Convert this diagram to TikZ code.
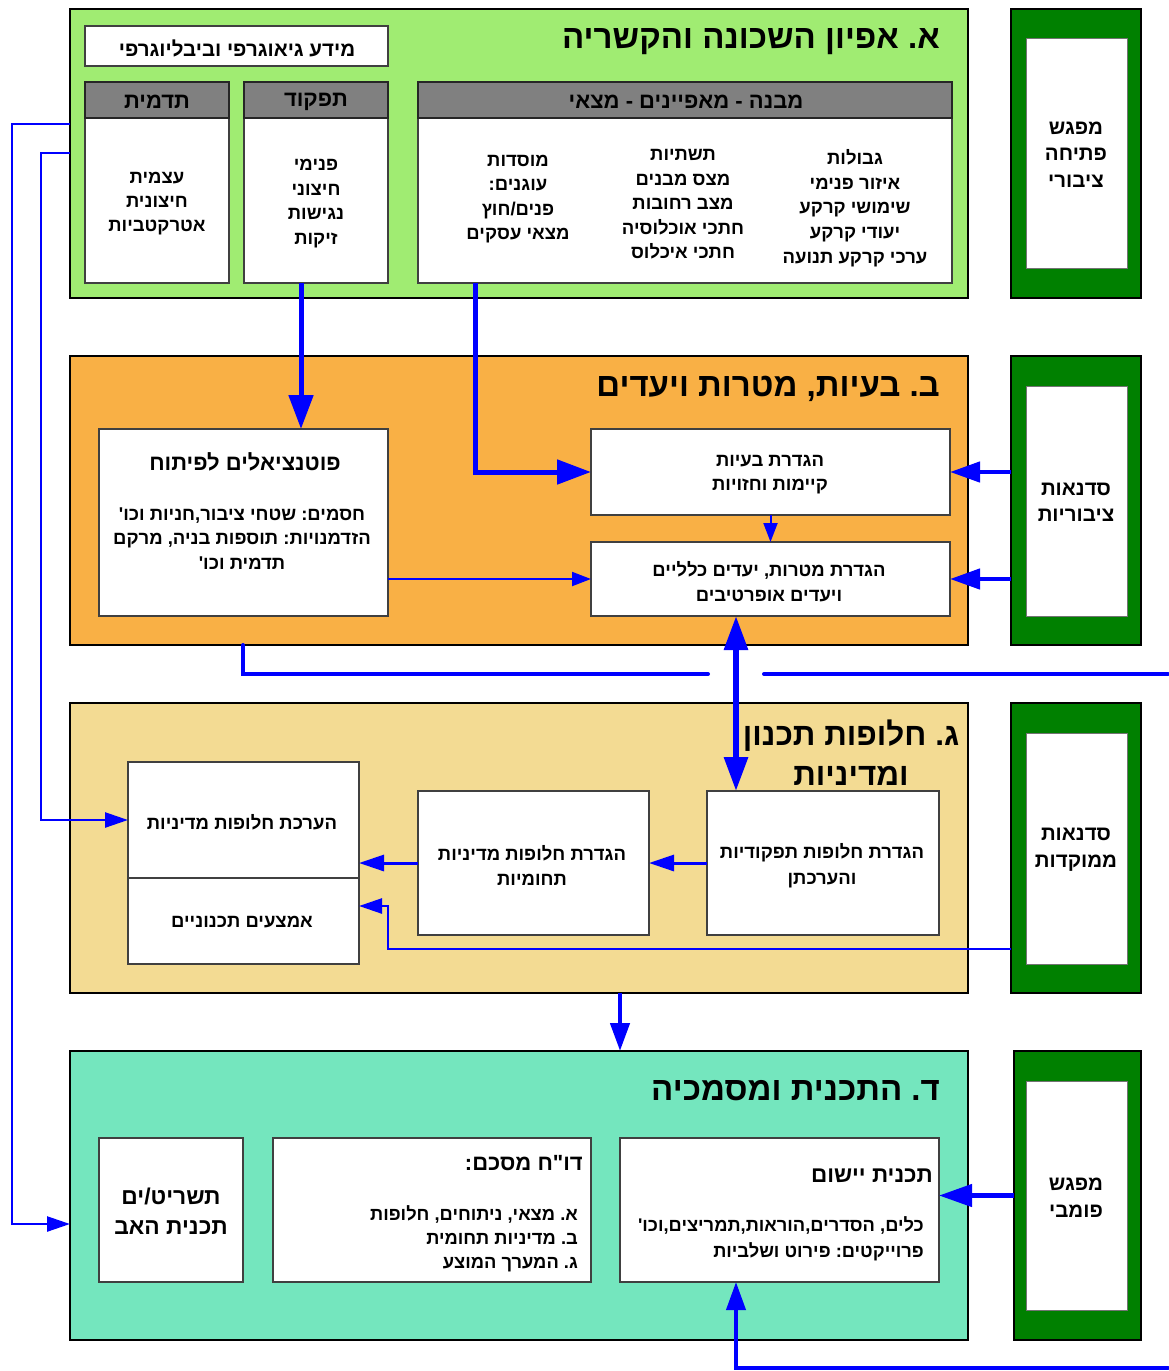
\documentclass[tikz,border=0pt]{standalone}
\usepackage{fontspec}
\newfontfamily\hebf{Liberation Sans}[Script=Hebrew]
\TeXXeTstate=1
\frenchspacing
\usetikzlibrary{arrows.meta,fit,calc}
\newcommand{\hb}[1]{\beginR #1\endR}
\definecolor{cA}{HTML}{A0EC72}
\definecolor{cB}{HTML}{F9B045}
\definecolor{cC}{HTML}{F3DB93}
\definecolor{cD}{HTML}{74E6BE}
\definecolor{dg}{HTML}{008000}
\definecolor{hdr}{HTML}{808080}
\definecolor{bl}{HTML}{0000FF}
\tikzset{
 sec/.style={draw=black, line width=2.5pt, inner sep=0pt, outer sep=0pt},
 wbox/.style={draw=black!75, line width=1.2pt, fill=white, inner sep=0pt, outer sep=0pt},
 hbox/.style={draw=black!85, line width=1.2pt, fill=hdr, inner sep=0pt, outer sep=0pt},
 gout/.style={draw=black, line width=2pt, fill=dg, inner sep=0pt, outer sep=0pt},
 gin/.style={draw=black!55, line width=1pt, fill=white, inner sep=0pt, outer sep=0pt},
 ttl/.style={font={\hebf\bfseries\fontsize{33}{40}\selectfont}, inner sep=0pt, align=center, yshift=-4pt},
 hdt/.style={font={\hebf\bfseries\fontsize{22}{24}\selectfont}, inner sep=0pt, align=center, yshift=-2pt},
 big/.style={font={\hebf\bfseries\fontsize{20.5}{26.5}\selectfont}, inner sep=0pt, align=center, yshift=-1.5pt},
 txt/.style={font={\hebf\bfseries\fontsize{18.5}{24.5}\selectfont}, inner sep=0pt, align=center, yshift=-2.5pt},
 txr/.style={font={\hebf\bfseries\fontsize{18.5}{24.5}\selectfont}, inner sep=0pt, align=right, anchor=east, yshift=-2pt},
 ab/.style={draw=bl, line width=5pt, -{Triangle[length=34pt,width=24pt]}},
 ag/.style={draw=bl, line width=4.5pt, -{Triangle[length=30pt,width=20pt]}},
 as/.style={draw=bl, line width=2pt, -{Triangle[length=19pt,width=14pt]}},
 am/.style={draw=bl, line width=3pt, -{Triangle[length=25pt,width=16pt]}},
 al/.style={draw=bl, line width=2.5pt, -{Triangle[length=23pt,width=15pt]}},
 ln/.style={draw=bl, line width=4pt, line cap=round},
}
\begin{document}
\begin{tikzpicture}[x=1pt,y=-1pt]
\useasboundingbox (0,0) rectangle (1168,1371);
\fill[white] (0,0) rectangle (1168,1371);

% ---------- Section A ----------
\node[sec, fill=cA, fit={(70,9)(968,298)}] (secA) {};
\node[ttl, anchor=east] (tA) at (940,38) {\hb{א. אפיון השכונה והקשריה}};
\node[wbox, fit={(85,26)(388,66)}] (info) {};
\node[hdt, font={\hebf\bfseries\fontsize{20.5}{24}\selectfont}] (tinfo) at (237,46) {\hb{מידע גיאוגרפי וביבליוגרפי}};
\node[wbox, fit={(85,82)(229,283)}] (im) {};
\node[hbox, fit={(85,82)(229,118)}] (imh) {};
\node[hdt] (timh) at (157,100) {\hb{תדמית}};
\node[wbox, fit={(244,82)(388,283)}] (tf) {};
\node[hbox, fit={(244,82)(388,118)}] (tfh) {};
\node[hdt] (ttfh) at (316,100) {\hb{תפקוד}};
\node[wbox, fit={(418,82)(952,283)}] (mb) {};
\node[hbox, fit={(418,82)(952,118)}] (mbh) {};
\node[hdt] (tmbh) at (686,100) {\hb{מבנה - מאפיינים - מצאי}};
\node[txt, font={\hebf\bfseries\fontsize{18.5}{24}\selectfont}] (tim) at (157,201) {\hb{עצמית}\\\hb{חיצונית}\\\hb{אטרקטביות}};
\node[txt, font={\hebf\bfseries\fontsize{18.5}{24.7}\selectfont}] (ttf) at (316,201) {\hb{פנימי}\\\hb{חיצוני}\\\hb{נגישות}\\\hb{זיקות}};
\node[txt, font={\hebf\bfseries\fontsize{18.5}{24.75}\selectfont}] (c1) at (855,205.5) {\hb{גבולות}\\\hb{איזור פנימי}\\\hb{שימושי קרקע}\\\hb{יעודי קרקע}\\\hb{ערכי קרקע תנועה}};
\node[txt] (c2) at (683,202) {\hb{תשתיות}\\\hb{מצס מבנים}\\\hb{מצב רחובות}\\\hb{חתכי אוכלוסיה}\\\hb{חתכי איכלוס}};
\node[txt, font={\hebf\bfseries\fontsize{18.5}{24.3}\selectfont}] (c3) at (518,196.5) {\hb{מוסדות}\\\hb{עוגנים:}\\\hb{פנים/חוץ}\\\hb{מצאי עסקים}};
\node[gout, fit={(1011,9)(1141,298)}] (gA) {};
\node[gin, fit={(1026,38)(1127,268)}] (gAi) {};
\node[big] (tgA) at (1076,153) {\hb{מפגש}\\\hb{פתיחה}\\\hb{ציבורי}};

% ---------- Section B ----------
\node[sec, fill=cB, fit={(70,356)(968,645)}] (secB) {};
\node[ttl, anchor=east] (tB) at (940,385) {\hb{ב. בעיות, מטרות ויעדים}};
\node[wbox, fit={(99,429)(388,616)}] (pot) {};
\node[big, font={\hebf\bfseries\fontsize{22}{26}\selectfont}, yshift=1.5pt] (tpot) at (245,462) {\hb{פוטנציאלים לפיתוח}};
\node[txt, yshift=1.5pt] (tpot2) at (242,537.5) {\hb{חסמים: שטחי ציבור,חניות וכו'}\\\hb{הזדמנויות: תוספות בניה, מרקם}\\\hb{תדמית וכו'}};
\node[wbox, fit={(591,429)(950,515)}] (prob) {};
\node[txt, font={\hebf\bfseries\fontsize{18.5}{24}\selectfont}] (tprob) at (770,472) {\hb{הגדרת בעיות}\\\hb{קיימות וחזויות}};
\node[wbox, fit={(591,542)(950,616)}] (goal) {};
\node[txt, font={\hebf\bfseries\fontsize{18.5}{25}\selectfont}] (tgoal) at (769,579.5) {\hb{הגדרת מטרות, יעדים כלליים}\\\hb{ויעדים אופרטיבים}};
\node[gout, fit={(1011,356)(1141,645)}] (gB) {};
\node[gin, fit={(1026,386)(1127,616)}] (gBi) {};
\node[big] (tgB) at (1076,501) {\hb{סדנאות}\\\hb{ציבוריות}};

% ---------- Section C ----------
\node[sec, fill=cC, fit={(70,703)(968,993)}] (secC) {};
\node[ttl, font={\hebf\bfseries\fontsize{31.5}{40}\selectfont}, yshift=3pt] (tC) at (851,752) {\hb{ג. חלופות תכנון}\\\hb{ומדיניות}};
\node[wbox, fit={(128,762)(359,878)}] (eval) {};
\node[txt] (teval) at (242,820) {\hb{הערכת חלופות מדיניות}};
\node[wbox, fit={(128,878)(359,964)}] (mean) {};
\node[txt] (tmean) at (242,920) {\hb{אמצעים תכנוניים}};
\node[wbox, fit={(418,791)(649,935)}] (pol) {};
\node[txt, font={\hebf\bfseries\fontsize{18.5}{25}\selectfont}] (tpol) at (532,862.5) {\hb{הגדרת חלופות מדיניות}\\\hb{תחומיות}};
\node[wbox, fit={(707,791)(939,935)}] (func) {};
\node[txt, font={\hebf\bfseries\fontsize{18.5}{26}\selectfont}] (tfunc) at (822,863) {\hb{הגדרת חלופות תפקודיות}\\\hb{והערכתן}};
\node[gout, fit={(1011,703)(1141,993)}] (gC) {};
\node[gin, fit={(1026,733)(1127,964)}] (gCi) {};
\node[big] (tgC) at (1076,848) {\hb{סדנאות}\\\hb{ממוקדות}};

% ---------- Section D ----------
\node[sec, fill=cD, fit={(70,1051)(968,1340)}] (secD) {};
\node[ttl, anchor=east, yshift=1pt] (tD) at (940,1088) {\hb{ד. התכנית ומסמכיה}};
\node[wbox, fit={(99,1138)(243,1282)}] (plan) {};
\node[big, font={\hebf\bfseries\fontsize{22.8}{30}\selectfont}, yshift=1.5pt] (tplan) at (171,1211) {\hb{תשריט/ים}\\\hb{תכנית האב}};
\node[wbox, fit={(273,1138)(591,1282)}] (rep) {};
\node[big, anchor=east, font={\hebf\bfseries\fontsize{22}{26}\selectfont}] (trep) at (583,1162) {\hb{דו"ח מסכם:}};
\node[txr, font={\hebf\bfseries\fontsize{18.3}{24}\selectfont}] (trep2) at (578,1237) {\hb{א. מצאי, ניתוחים, חלופות}\\\hb{ב. מדיניות תחומית}\\\hb{ג. המערך המוצע}};
\node[wbox, fit={(620,1138)(939,1282)}] (impl) {};
\node[big, anchor=east, font={\hebf\bfseries\fontsize{22.5}{26}\selectfont}] (timpl) at (933,1174) {\hb{תכנית יישום}};
\node[txr, font={\hebf\bfseries\fontsize{18.3}{26}\selectfont}] (timpl2) at (924,1237) {\hb{כלים, הסדרים,הוראות,תמריצים,וכו'}\\\hb{פרוייקטים: פירוט ושלביות}};
\node[gout, fit={(1014,1051)(1141,1340)}] (gD) {};
\node[gin, fit={(1026,1081)(1127,1310)}] (gDi) {};
\node[big] (tgD) at (1076,1196) {\hb{מפגש}\\\hb{פומבי}};

% ---------- free-end coordinates ----------
\coordinate (jl) at (708,674);
\coordinate (jr) at (764,674);
\coordinate (eR1) at (1168,674);
\coordinate (eR2) at (1168,1368);
\coordinate (L1) at (12,124);
\coordinate (L2) at (41,153);
\coordinate (k13) at (388,949);

% ---------- connectors ----------
\draw[ab] ($(tf.south west)+(57,0)$) coordinate (a1) -- (a1 |- pot.north);
\draw[ab] ($(mb.south west)+(57,0)$) coordinate (a2) |- (prob.west);
\draw[as] (prob.south) -- (goal.north);
\draw[as] (goal.west -| pot.east) -- (goal.west);
\draw[ag] (prob.east -| gB.west) -- (prob.east);
\draw[ag] (goal.east -| gB.west) -- (goal.east);
\draw[ln] ($(secB.south west)+(173,0)$) |- (jl);
\draw[ln] (jr) -- (eR1);
\draw[draw=bl, line width=6pt, {Triangle[length=34pt,width=23pt]}-{Triangle[length=34pt,width=23pt]}]
  ($(func.north west)+(29,0)$) coordinate (a7) -- (a7 |- goal.south);
\draw[al] ($(secA.north west)+(0,115)$) -- (L1) |- ($(secD.south west)+(0,-116)$);
\draw[al] ($(secA.north west)+(0,144)$) -- (L2) |- (eval.west);
\draw[am] (pol.west) -- (pol.west -| eval.east);
\draw[am] (func.west) -- (func.west -| pol.east);
\draw[al] ($(gC.south west)+(0,-44)$) -- (k13) |- ($(mean.north east)+(0,28)$);
\draw[draw=bl, line width=4.5pt, -{Triangle[length=28pt,width=19pt]}] ($(secC.south west)+(550,0)$) coordinate (a14) -- (a14 |- secD.north);
\draw[draw=bl, line width=4.5pt, -{Triangle[length=33pt,width=22pt]}] (gD.west) -- (gD.west -| impl.east);
\draw[draw=bl, line width=4pt, line cap=round, -{Triangle[length=28pt,width=19pt]}] (eR2) -| ($(impl.south west)+(116,0)$);
\end{tikzpicture}
\end{document}
